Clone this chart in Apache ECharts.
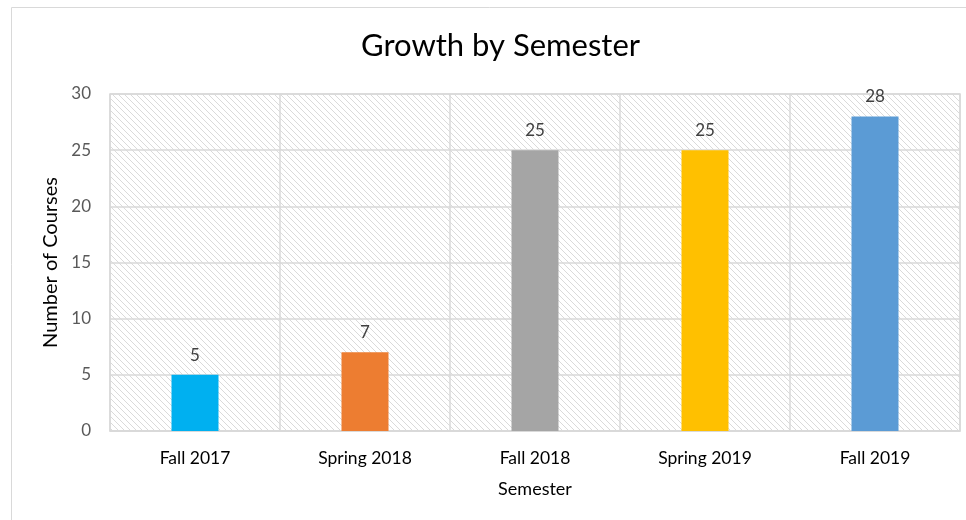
<!DOCTYPE html>
<html>
<head>
<meta charset="utf-8">
<script src="https://cdn.jsdelivr.net/npm/echarts@6/dist/echarts.min.js"></script>
<style>
  html, body { margin: 0; padding: 0; background: #fff; }
  #chart { width: 966px; height: 520px; }
</style>
</head>
<body>
<div id="chart"></div>
<script>
const semesters = ["Fall 2017", "Spring 2018", "Fall 2018", "Spring 2019", "Fall 2019"];
const courseCounts = [5, 7, 25, 25, 28];
const barColors = ["#00B0F0", "#ED7D31", "#A5A5A5", "#FFC000", "#5B9BD5"];

const fontFamily = "Lato, 'Open Sans', sans-serif";

// diagonal hatch for plot area
const hatch = document.createElement("canvas");
hatch.width = 6;
hatch.height = 6;
const hctx = hatch.getContext("2d");
hctx.fillStyle = "#ffffff";
hctx.fillRect(0, 0, 6, 6);
hctx.strokeStyle = "#dadada";
hctx.lineWidth = 1;
hctx.beginPath();
hctx.moveTo(-1, -1); hctx.lineTo(7, 7);
hctx.moveTo(-1, 5); hctx.lineTo(1, 7);
hctx.moveTo(5, -1); hctx.lineTo(7, 1);
hctx.stroke();

const chart = echarts.init(document.getElementById("chart"));

chart.setOption({
  animation: false,
  title: {
    text: "Growth by Semester",
    left: 356,
    top: 25,
    textStyle: {
      color: "#000000",
      fontFamily,
      fontSize: 31,
      fontWeight: 400,
    },
  },
  graphic: [
    {
      type: "rect",
      shape: { x: 11.5, y: 7.5, width: 1000, height: 600 },
      style: { fill: null, stroke: "#d9d9d9", lineWidth: 1 },
      silent: true,
      z: -1,
    },
  ],
  grid: {
    left: 110,
    right: 6,
    top: 94,
    bottom: 89,
    show: true,
    backgroundColor: { image: hatch, repeat: "repeat" },
    borderColor: "#d9d9d9",
    borderWidth: 1.5,
  },
  xAxis: {
    type: "category",
    data: semesters,
    name: "Semester",
    nameLocation: "middle",
    nameGap: 49,
    nameTextStyle: { color: "#000000", fontFamily, fontSize: 18 },
    axisLine: { lineStyle: { color: "#d9d9d9", width: 1.5 } },
    axisTick: { show: false },
    axisLabel: { color: "#000000", fontFamily, fontSize: 17.5, margin: 18 },
    splitLine: { show: true, interval: 0, lineStyle: { color: "#d9d9d9", width: 1.5 } },
  },
  yAxis: {
    type: "value",
    min: 0,
    max: 30,
    interval: 5,
    name: "Number of Courses",
    nameLocation: "middle",
    nameGap: 49,
    nameTextStyle: { color: "#000000", fontFamily, fontSize: 20 },
    axisLine: { show: false },
    axisTick: { show: false },
    axisLabel: { color: "#595959", fontFamily, fontSize: 17, margin: 19 },
    splitLine: { lineStyle: { color: "#d9d9d9", width: 1.5 } },
  },
  series: [
    {
      type: "bar",
      barWidth: 47,
      data: courseCounts.map((v, i) => ({ value: v, itemStyle: { color: barColors[i] } })),
      label: {
        show: true,
        position: "top",
        distance: 11,
        color: "#404040",
        fontFamily,
        fontSize: 17,
      },
    },
  ],
});
</script>
</body>
</html>
